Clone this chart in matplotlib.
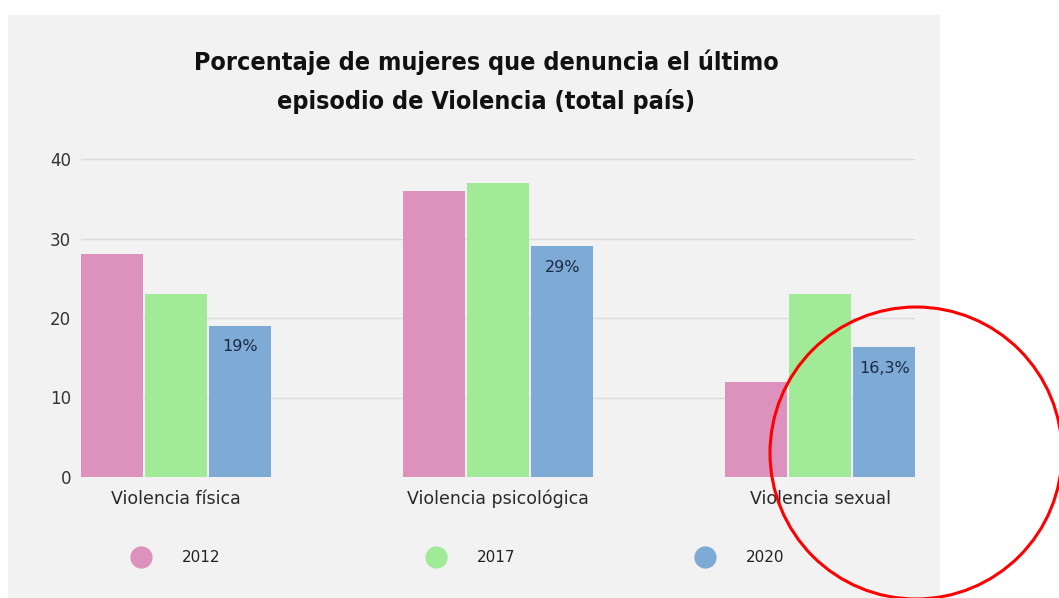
import numpy as np
import matplotlib.pyplot as plt
from matplotlib.patches import Rectangle, Ellipse
from matplotlib.lines import Line2D

# Data
categories = ['Violencia física', 'Violencia psicológica', 'Violencia sexual']
years = ['2012', '2017', '2020']
values_2012 = [28, 36, 12]
values_2017 = [23, 37, 23]
values_2020 = [19, 29, 16.3]
labels_2020 = ['19%', '29%', '16,3%']
colors = ['#DD92BE', '#A0EA98', '#7EAAD6']

W, H = 1059, 598
fig = plt.figure(figsize=(W / 100, H / 100), dpi=100, facecolor='white')

# gray card behind the chart
fig.patches.append(Rectangle((8 / W, 0), (940 - 8) / W, (H - 15) / H,
                             transform=fig.transFigure, facecolor='#f2f2f2',
                             edgecolor='none', zorder=-5))

ax = fig.add_axes([81 / W, 121 / H, (915 - 81) / W, 40.3 * 7.95 / H])
ax.set_facecolor('none')

x = np.arange(len(categories))
width = 0.193
offset = 0.2
series = [values_2012, values_2017, values_2020]
for i, vals in enumerate(series):
    ax.bar(x + (i - 1) * offset, vals, width, color=colors[i], zorder=3)

# value labels inside the 2020 bars
for xi, v, lab in zip(x, values_2020, labels_2020):
    ax.annotate(lab, (xi + offset, v), xytext=(0, -15), textcoords='offset points',
                ha='center', va='center', fontsize=11.5, color='#1c2b44',
                family='DejaVu Sans', zorder=4)

ax.set_xlim(-0.295, 2.295)
ax.set_ylim(0, 40.3)
ax.set_yticks([0, 10, 20, 30, 40])
ax.set_xticks(x)
ax.set_xticklabels(categories, family='DejaVu Sans', fontsize=12.5, color='#2a2a2a')
for lab in ax.get_yticklabels():
    lab.set_family('DejaVu Sans')
ax.tick_params(axis='y', length=0, pad=7, labelsize=12, labelcolor='#333333')
ax.tick_params(axis='x', length=0, pad=9)
ax.grid(axis='y', color='#dcdcdc', linewidth=1, zorder=0)
for s in ax.spines.values():
    s.set_visible(False)

# title in a condensed heavy face
fig.text(486 / W, 1 - 62 / H, 'Porcentaje de mujeres que denuncia el último',
         ha='center', va='center', fontsize=18, fontweight='heavy',
         fontstretch='condensed', family='DejaVu Sans', color='#111111')
fig.text(486 / W, 1 - 101 / H, 'episodio de Violencia (total país)',
         ha='center', va='center', fontsize=18, fontweight='heavy',
         fontstretch='condensed', family='DejaVu Sans', color='#111111')

# legend: one small legend per year, placed where the reference has them
legend_x = [141, 436, 705]
for lx, yr, c in zip(legend_x, years, colors):
    h = Line2D([], [], marker='o', linestyle='', markersize=15, color=c)
    lg = fig.legend([h], [yr], loc='center left',
                    bbox_to_anchor=((lx - 7.6) / W, 40 / H),
                    frameon=False, handlelength=1, handletextpad=2.2,
                    borderpad=0, borderaxespad=0,
                    prop={'family': 'DejaVu Sans', 'size': 11})
    for t in lg.get_texts():
        t.set_color('#222222')

# red circle annotation
fig.add_artist(Ellipse((916 / W, 1 - 453 / H), 292 / W, 292 / H,
                       transform=fig.transFigure, fill=False,
                       edgecolor='#ff0000', linewidth=2.2, zorder=10))

fig.savefig('out.png', dpi=100, facecolor='white')
